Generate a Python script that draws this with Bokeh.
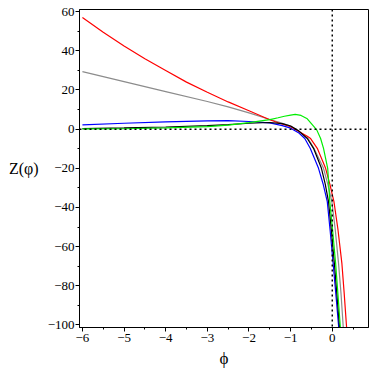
from bokeh.plotting import figure
from bokeh.models import FixedTicker, Range1d, Label, Span, LinearAxis
from bokeh.embed import file_html
from bokeh.resources import INLINE

# ---- data ----
red_x = [-6, -5.5, -5, -4.5, -4, -3.5, -3, -2.5, -2, -1.5, -1.25, -1.0, -0.75, -0.6, -0.52, -0.36, -0.16, -0.06, 0.04, 0.135, 0.23, 0.285, 0.34, 0.35]
red_y = [57, 49.5, 42.5, 36, 30, 24, 18.8, 13.9, 9.4, 4.8, 2.9, 1.2, -1.8, -3.6, -4.8, -9.8, -20, -28, -37, -51, -68.4, -83.5, -100, -103]

gray_x = [-6, -5, -4, -3, -2.5, -2, -1.5, -1.25, -1.0, -0.8, -0.58, -0.44, -0.21, -0.11, -0.01, 0.07, 0.15, 0.21, 0.26, 0.27]
gray_y = [29.4, 24.3, 19.2, 14.1, 11.4, 8.3, 4.9, 3.4, 1.6, -1.0, -4.8, -9.8, -20, -28, -37, -51, -68.4, -84, -100, -103]

blue_x = [-6, -5, -4, -3, -2.5, -2, -1.5, -1.2, -1.0, -0.8, -0.66, -0.53, -0.33, -0.22, -0.12, -0.05, 0.02, 0.085, 0.15, 0.16]
blue_y = [2.2, 3.0, 3.7, 4.2, 4.3, 3.9, 3.2, 1.8, 0.5, -2.0, -4.8, -9.8, -20, -28, -37, -52, -68.4, -84, -100, -103]

black_x = [-6, -5, -4, -3, -2.5, -2, -1.5, -1.2, -1.0, -0.8, -0.6, -0.45, -0.26, -0.17, -0.09, -0.02, 0.05, 0.11, 0.17, 0.18]
black_y = [0.3, 0.6, 1.1, 1.8, 2.3, 3.0, 3.4, 2.8, 1.6, -1.0, -4.8, -9.8, -20, -28, -37, -52, -68.4, -84, -100, -103]

green_x = [-6, -5, -4, -3, -2.5, -2, -1.5, -1.3, -1.15, -1.0, -0.89, -0.75, -0.6, -0.45, -0.37, -0.28, -0.21, -0.11, -0.085, -0.06, 0.01, 0.08, 0.135, 0.19, 0.2]
green_y = [0.1, 0.2, 0.6, 1.3, 2.1, 3.3, 4.9, 5.8, 6.6, 7.2, 7.5, 7.0, 5.3, 1.5, -0.5, -4.8, -9.8, -20, -28, -37, -52, -68.4, -84, -100, -103]

x_ticks = [-6, -5, -4, -3, -2, -1, 0]
x_tick_labels = ["\u22126", "\u22125", "\u22124", "\u22123", "\u22122", "\u22121", "0"]
x_minor = [-6, -5.5, -5, -4.5, -4, -3.5, -3, -2.5, -2, -1.5, -1, -0.5, 0, 0.5]

y_ticks = [-100, -80, -60, -40, -20, 0, 20, 40, 60]
y_tick_labels = ["\u2212100", "\u221280", "\u221260", "\u221240", "\u221220", "0", "20", "40", "60"]
y_minor = [-100, -90, -80, -70, -60, -50, -40, -30, -20, -10, 0, 10, 20, 30, 40, 50, 60]

x_label = "\u03d5"
y_label = "Z(\u03c6)"

FONT = "Liberation Serif"

p = figure(width=370, height=370,
           x_range=Range1d(-6.07, 0.87), y_range=Range1d(-101.3, 61.1),
           output_backend="svg", toolbar_location=None,
           min_border_left=79, min_border_right=2, min_border_top=9, min_border_bottom=42)

p.xgrid.visible = False
p.ygrid.visible = False
p.outline_line_color = "black"
p.outline_line_width = 1
p.background_fill_color = "white"
p.border_fill_color = "white"

p.xaxis.ticker = FixedTicker(ticks=x_ticks, minor_ticks=x_minor)
p.yaxis.ticker = FixedTicker(ticks=y_ticks, minor_ticks=y_minor)
p.xaxis.major_label_overrides = dict(zip(x_ticks, x_tick_labels))
p.yaxis.major_label_overrides = dict(zip(y_ticks, y_tick_labels))

for ax in (p.xaxis, p.yaxis):
    ax.axis_line_color = "black"
    ax.axis_line_width = 1
    ax.major_tick_in = 0
    ax.major_tick_out = 4
    ax.minor_tick_in = 0
    ax.minor_tick_out = 2
    ax.major_tick_line_color = "black"
    ax.minor_tick_line_color = "black"
    ax.major_label_text_font = FONT
    ax.major_label_text_font_size = "13px"
    ax.major_label_text_color = "black"
    ax.axis_label_text_font = FONT
    ax.axis_label_text_font_style = "normal"
    ax.axis_label_text_color = "black"
p.xaxis.major_label_standoff = 2
p.yaxis.major_label_standoff = 1

p.xaxis.axis_label = x_label
p.xaxis.axis_label_text_font_size = "17px"
p.xaxis.axis_label_standoff = 4

if "axis_label_orientation" in LinearAxis.properties():
    p.yaxis.axis_label = y_label
    p.yaxis.axis_label_orientation = "horizontal"
    p.yaxis.axis_label_text_font_size = "16px"
    p.yaxis.axis_label_standoff = 6
else:
    p.add_layout(Label(x=-6.07, y=-20.1, x_offset=-55, text=y_label, text_font=FONT,
                       text_font_size="16px", text_align="center", text_baseline="middle",
                       text_color="black"))

# reference dotted lines at x=0 and y=0
p.add_layout(Span(location=0, dimension="height", line_color="black", line_width=1.5, line_dash="2 3"))
p.add_layout(Span(location=0, dimension="width", line_color="black", line_width=1.5, line_dash="2 3"))

lw = 1.2
p.line(gray_x, gray_y, line_color="#8c8c8c", line_width=lw)
p.line(red_x, red_y, line_color="#ff0000", line_width=lw)
p.line(blue_x, blue_y, line_color="#0000ff", line_width=lw)
p.line(black_x, black_y, line_color="#000000", line_width=lw)
p.line(green_x, green_y, line_color="#00ee00", line_width=lw)

open("out.html", "w").write(file_html(p, INLINE))
